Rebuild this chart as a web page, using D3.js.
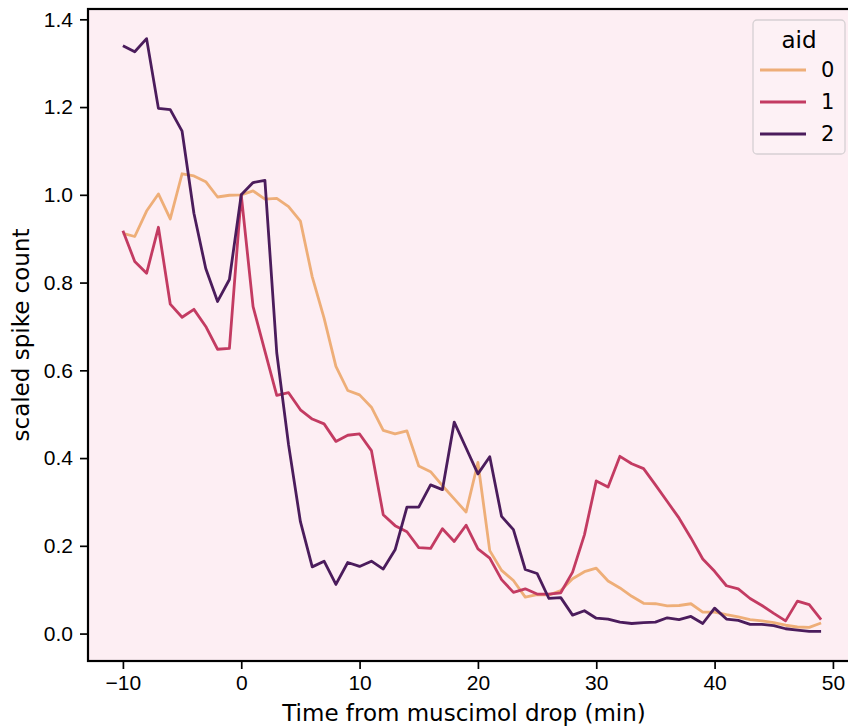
<!DOCTYPE html>
<html>
<head>
<meta charset="utf-8">
<script src="https://cdn.jsdelivr.net/npm/d3@7"></script>
<style>
  body { margin: 0; background: #fff; }
  svg { display: block; font-family: "DejaVu Sans", sans-serif; }
</style>
</head>
<body>
<svg width="848" height="726"></svg>
<script>
// minutes relative to muscimol drop
const times = d3.range(-10, 50);

const aid0 = [
  0.912, 0.905, 0.963, 1.002, 0.945, 1.048, 1.043, 1.030, 0.995, 0.999,
  1.000, 1.009, 0.990, 0.992, 0.973, 0.940, 0.813, 0.719, 0.609, 0.554,
  0.544, 0.516, 0.463, 0.455, 0.462, 0.382, 0.369, 0.337, 0.307, 0.277,
  0.390, 0.189, 0.144, 0.121, 0.083, 0.089, 0.088, 0.098, 0.125, 0.141,
  0.149, 0.120, 0.104, 0.085, 0.069, 0.068, 0.063, 0.064, 0.068, 0.049,
  0.049, 0.043, 0.038, 0.032, 0.029, 0.025, 0.019, 0.015, 0.014, 0.024
];

const aid1 = [
  0.918, 0.848, 0.821, 0.926, 0.751, 0.721, 0.739, 0.700, 0.648, 0.650,
  1.000, 0.745, 0.644, 0.543, 0.549, 0.510, 0.489, 0.478, 0.438, 0.452,
  0.455, 0.417, 0.271, 0.246, 0.232, 0.196, 0.194, 0.239, 0.210, 0.247,
  0.193, 0.172, 0.123, 0.094, 0.102, 0.090, 0.090, 0.093, 0.140, 0.225,
  0.348, 0.334, 0.404, 0.387, 0.376, 0.339, 0.301, 0.263, 0.218, 0.170,
  0.142, 0.109, 0.102, 0.080, 0.064, 0.046, 0.029, 0.074, 0.066, 0.032
];

const aid2 = [
  1.340, 1.326, 1.356, 1.197, 1.194, 1.145, 0.958, 0.832, 0.757, 0.807,
  1.000, 1.028, 1.033, 0.640, 0.430, 0.255, 0.152, 0.165, 0.112, 0.162,
  0.153, 0.165, 0.147, 0.191, 0.288, 0.288, 0.339, 0.328, 0.482, 0.423,
  0.364, 0.403, 0.267, 0.237, 0.146, 0.137, 0.080, 0.082, 0.042, 0.052,
  0.035, 0.033, 0.026, 0.023, 0.025, 0.026, 0.036, 0.032, 0.039, 0.023,
  0.058, 0.033, 0.030, 0.021, 0.021, 0.018, 0.011, 0.008, 0.005, 0.005
];

const aids = ['0', '1', '2'];
const colors = ['#eeae78', '#c33b62', '#4b1c5c'];
const xTicks = [-10, 0, 10, 20, 30, 40, 50];
const yTicks = [0, 0.2, 0.4, 0.6, 0.8, 1.0, 1.2, 1.4];

const seriesList = [aid0, aid1, aid2].map((vals, i) => ({
  aid: aids[i],
  color: colors[i],
  points: times.map((t, j) => ({x: t, y: vals[j]}))
}));

const margin = {top: 9, left: 88, bottom: 65, right: -8};
const width = 848;
const height = 726;

const svg = d3.select('svg');

const xScale = d3.scaleLinear()
  .domain([-12.95, 51.95])
  .range([margin.left, width - margin.right]);

const yScale = d3.scaleLinear()
  .domain([-0.0625, 1.4235])
  .range([height - margin.bottom, margin.top]);

// plot background
svg.append('rect')
  .attr('x', margin.left)
  .attr('y', margin.top)
  .attr('width', xScale.range()[1] - margin.left)
  .attr('height', yScale.range()[0] - margin.top)
  .attr('fill', '#fdeef3');

// lines
const line = d3.line()
  .x(d => xScale(d.x))
  .y(d => yScale(d.y));

svg.append('g')
  .selectAll('path')
  .data(seriesList)
  .join('path')
  .attr('fill', 'none')
  .attr('stroke', d => d.color)
  .attr('stroke-width', 2.8)
  .attr('stroke-linejoin', 'round')
  .attr('d', d => line(d.points));

// x-axis
const xAxis = svg.append('g')
  .attr('transform', `translate(0, ${yScale.range()[0]})`)
  .call(d3.axisBottom(xScale).tickValues(xTicks).tickSize(8).tickPadding(6)
    .tickFormat(d => d < 0 ? '\u2212' + Math.abs(d) : d));

// y-axis
const yAxis = svg.append('g')
  .attr('transform', `translate(${margin.left}, 0)`)
  .call(d3.axisLeft(yScale).tickValues(yTicks).tickSize(8).tickPadding(7)
    .tickFormat(d3.format('.1f')));

[xAxis, yAxis].forEach(ax => {
  ax.select('.domain').remove();
  ax.selectAll('.tick line').attr('stroke', '#000').attr('stroke-width', 1.7);
  ax.selectAll('.tick text').attr('fill', '#000').style('font-size', '21px');
});

// spines
svg.append('rect')
  .attr('x', margin.left)
  .attr('y', margin.top)
  .attr('width', xScale.range()[1] - margin.left)
  .attr('height', yScale.range()[0] - margin.top)
  .attr('fill', 'none')
  .attr('stroke', '#000')
  .attr('stroke-width', 2.2);

// axis labels
svg.append('text')
  .attr('x', (margin.left + xScale.range()[1]) / 2 - 8)
  .attr('y', 721)
  .attr('text-anchor', 'middle')
  .style('font-size', '23px')
  .text('Time from muscimol drop (min)');

svg.append('text')
  .attr('transform', `translate(29, ${(margin.top + yScale.range()[0]) / 2}) rotate(-90)`)
  .attr('text-anchor', 'middle')
  .style('font-size', '23px')
  .text('scaled spike count');

// legend
const legend = svg.append('g').attr('transform', 'translate(753, 20)');

legend.append('rect')
  .attr('width', 92)
  .attr('height', 134)
  .attr('rx', 4)
  .attr('fill', '#fdf1f5')
  .attr('stroke', '#d6d0d3')
  .attr('stroke-width', 1.3);

legend.append('text')
  .attr('x', 46)
  .attr('y', 28)
  .attr('text-anchor', 'middle')
  .style('font-size', '23px')
  .text('aid');

const entry = legend.selectAll('.entry')
  .data(seriesList)
  .join('g')
  .attr('class', 'entry')
  .attr('transform', (d, i) => `translate(0, ${50 + i * 32})`);

entry.append('line')
  .attr('x1', 7)
  .attr('x2', 53)
  .attr('stroke', d => d.color)
  .attr('stroke-width', 2.8);

entry.append('text')
  .attr('x', 68)
  .attr('y', 7)
  .style('font-size', '21px')
  .text(d => d.aid);
</script>
</body>
</html>
